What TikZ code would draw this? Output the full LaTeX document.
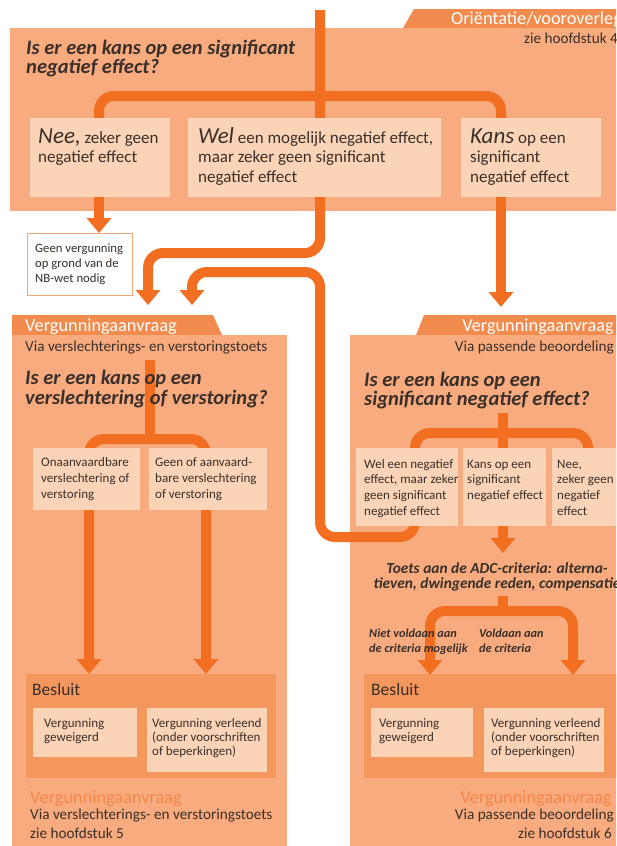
\documentclass[tikz,border=0pt]{standalone}
\usepackage{fontspec}
\setmainfont{Carlito}
\usetikzlibrary{arrows.meta}
\definecolor{boxfill}{HTML}{F7AB7E}
\definecolor{tabfill}{HTML}{F28B4E}
\definecolor{innerfill}{HTML}{FBD3B6}
\definecolor{besfill}{HTML}{F4975C}
\definecolor{lineor}{HTML}{F26F21}
\definecolor{txtc}{HTML}{3B2F2A}
\definecolor{ortxt}{HTML}{F5874A}
\definecolor{geenb}{HTML}{F2A57A}
\newcommand{\bigit}[1]{{\fontsize{23}{19.5}\selectfont\itshape #1}}
\begin{document}
\begin{tikzpicture}[x=1pt,y=-1pt,
  outerbox/.style={fill=boxfill,draw=none},
  tabshape/.style={fill=tabfill,draw=none},
  besbox/.style={fill=besfill,draw=none,inner sep=0,outer sep=0,anchor=north west},
  innerbox/.style={fill=innerfill,draw=none,inner sep=0,outer sep=0,anchor=north west},
  flow/.style={draw=lineor,line width=10pt,rounded corners=15pt},
  flowarr/.style={flow,-{Triangle[width=24pt,length=15pt]}},
  qtxt/.style={font=\fontsize{20.5}{19.5}\selectfont\bfseries\itshape,text=txtc,align=left,inner sep=0,anchor=base west},
  bigtxt/.style={font=\fontsize{17}{19.5}\selectfont,text=txtc,align=left,inner sep=0,anchor=base west},
  smalltxt/.style={font=\fontsize{13}{15.6}\selectfont,text=txtc,align=left,inner sep=0,anchor=base west},
  bestxt/.style={font=\fontsize{13}{14}\selectfont,text=txtc,align=left,inner sep=0,anchor=base west},
  tabtxt/.style={font=\fontsize{18.3}{19}\selectfont,text=white,inner sep=0},
  subtxt/.style={font=\fontsize{15.2}{16}\selectfont,text=txtc,inner sep=0},
  ortitle/.style={font=\fontsize{18.3}{19}\selectfont,text=ortxt,inner sep=0},
  crit/.style={font=\fontsize{12.3}{15}\selectfont\bfseries\itshape,text=txtc,align=left,inner sep=0,anchor=base west},
  adctxt/.style={font=\fontsize{15.4}{15}\selectfont\bfseries\itshape,text=txtc,align=center,inner sep=0,anchor=base},
  headtxt/.style={font=\fontsize{17.5}{18}\selectfont,text=txtc,inner sep=0,anchor=base west}
]
\useasboundingbox (0,0) rectangle (616,846);
\clip (0,0) rectangle (616,846);

% ---------- outer boxes ----------
\fill[tabshape] (403,28) -- (414,9) -- (630,9) -- (630,28) -- cycle;
\node[outerbox,inner sep=0,outer sep=0,anchor=north west,minimum width=620pt,minimum height=183pt] (topbox) at (10,28) {};
\fill[tabshape] (12,335) -- (12,315) -- (213,315) -- (222,335) -- cycle;
\node[outerbox,inner sep=0,outer sep=0,anchor=north west,minimum width=275pt,minimum height=520pt] (leftbox) at (12,335) {};
\fill[tabshape] (416,335) -- (424,315) -- (630,315) -- (630,335) -- cycle;
\node[outerbox,inner sep=0,outer sep=0,anchor=north west,minimum width=280pt,minimum height=520pt] (rightbox) at (350,335) {};

\node[besbox,minimum width=250pt,minimum height=104pt] (besL) at (26,674) {};
\node[besbox,minimum width=260pt,minimum height=104pt] (besR) at (364,674) {};

\node[draw=geenb,fill=white,line width=0.8pt,inner sep=0,outer sep=0,anchor=north west,minimum width=105pt,minimum height=62pt] (geen) at (27,233) {};

% ---------- coordinates ----------
\coordinate (start) at (320,10);
\coordinate (bT) at (320,96);
\coordinate (bTL) at (99,96);
\coordinate (bTR) at (501,96);
\coordinate (aA) at (320,253);
\coordinate (aA2) at (148,253);
\coordinate (tipA) at (148,305);
\coordinate (tipNee) at (99,233);
\coordinate (tipKans) at (501,307);
\coordinate (vL) at (150,360);
\coordinate (bL) at (150,439);
\coordinate (tipL1) at (89,674);
\coordinate (tipL2) at (206,674);
\coordinate (vR) at (503,413);
\coordinate (bR) at (503,433);
\coordinate (tipKR) at (503,553);
\coordinate (bB1) at (415,537);
\coordinate (bB2) at (320,537);
\coordinate (bB3) at (320,272);
\coordinate (bB4) at (192,272);
\coordinate (tipB) at (192,305);
\coordinate (vADC) at (503,596);
\coordinate (bADC) at (503,611);
\coordinate (tipR1) at (430,675);
\coordinate (tipR2) at (573,675);

% ---------- flow lines ----------
\draw[flowarr] (start) -- (aA) -- (aA2) -- (tipA);
\draw[flow] (bTL |- 0,150) -- (bTL) -- (bTR) -- (bTR |- 0,150);
\draw[flowarr] (bTL |- 0,150) -- (tipNee);
\draw[flowarr] (bTR |- 0,150) -- (tipKans);

\draw[flow] (vL) -- (bL);
\draw[flowarr] (bL) -| (tipL1);
\draw[flowarr] (bL) -| (tipL2);

\draw[flow] (vR) -- (bR);
\draw[flow] (bR) -| (588,480);
\draw[flowarr] (bR) -- (tipKR);
\draw[flowarr] (bR) -| (bB1) -- (bB2) -- (bB3) -- (bB4) -- (tipB);

\draw[flow] (vADC) -- (bADC);
\draw[flowarr] (bADC) -| (tipR1);
\draw[flowarr] (bADC) -| (tipR2);

% ---------- inner boxes ----------
\node[innerbox,minimum width=140pt,minimum height=79pt] (neeT) at (30,118) {};
\node[innerbox,minimum width=253pt,minimum height=79pt] (welT) at (188,118) {};
\node[innerbox,minimum width=140pt,minimum height=79pt] (kansT) at (461,118) {};

\node[innerbox,minimum width=107pt,minimum height=62pt] (onaL) at (33,448) {};
\node[innerbox,minimum width=118pt,minimum height=62pt] (geenL) at (149,448) {};

\node[innerbox,minimum width=102pt,minimum height=78pt] (welR) at (356,448) {};
\node[innerbox,minimum width=83pt,minimum height=78pt] (kansR) at (463,448) {};
\node[innerbox,minimum width=70pt,minimum height=78pt] (neeR) at (552,448) {};

\node[innerbox,minimum width=104pt,minimum height=49pt] (weigL) at (33,708) {};
\node[innerbox,minimum width=120pt,minimum height=64pt] (verlL) at (147,708) {};
\node[innerbox,minimum width=102pt,minimum height=49pt] (weigR) at (371,708) {};
\node[innerbox,minimum width=120pt,minimum height=64pt] (verlR) at (484,708) {};

% ---------- texts: top (base = last line) ----------
\node[tabtxt,anchor=base west] (tabT) at (451,24) {Oriëntatie/vooroverleg};
\node[subtxt,anchor=base west] (hfd4) at (524,43) {zie hoofdstuk 4};
\node[qtxt] (qT) at (26,73.5) {Is er een kans op een significant\\negatief effect?};
\node[bigtxt] (tNee) at (38,162.5) {\bigit{Nee,} zeker geen\\negatief effect};
\node[bigtxt] (tWel) at (198,182) {\bigit{Wel} een mogelijk negatief effect,\\maar zeker geen significant\\negatief effect};
\node[bigtxt] (tKans) at (470,182) {\bigit{Kans} op een\\significant\\negatief effect};
\node[smalltxt,font=\fontsize{12.7}{15}\selectfont] (tGeen) at (35,282) {Geen vergunning\\op grond van de\\NB-wet nodig};

% ---------- texts: left ----------
\node[tabtxt,anchor=base west] (tabL) at (25,331) {Vergunningaanvraag};
\node[subtxt,anchor=base west] (viaL) at (25,351) {Via verslechterings- en verstoringstoets};
\node[qtxt] (qL) at (25,404) {Is er een kans op een\\verslechtering of verstoring?};
\node[smalltxt] (tOna) at (41,498) {Onaanvaardbare\\verslechtering of\\verstoring};
\node[smalltxt] (tGeenL) at (155,498) {Geen of aanvaard-\\bare verslechtering\\of verstoring};
\node[headtxt] (besTL) at (32,695) {Besluit};
\node[bestxt] (tWeigL) at (44,741) {Vergunning\\geweigerd};
\node[bestxt] (tVerlL) at (152,755) {Vergunning verleend\\(onder voorschriften\\of beperkingen)};
\node[ortitle,anchor=base west] (botL1) at (30,803) {Vergunningaanvraag};
\node[subtxt,anchor=base west] (botL2) at (30,819) {Via verslechterings- en verstoringstoets};
\node[subtxt,anchor=base west] (botL3) at (30,838) {zie hoofdstuk 5};

% ---------- texts: right ----------
\node[tabtxt,anchor=base east] (tabR) at (614,331) {Vergunningaanvraag};
\node[subtxt,anchor=base east] (viaR) at (614,351) {Via passende beoordeling};
\node[qtxt] (qR) at (364,405.5) {Is er een kans op een\\significant negatief effect?};
\node[smalltxt] (tWelR) at (364,515) {Wel een negatief\\effect, maar zeker\\geen significant\\negatief effect};
\node[smalltxt] (tKansR) at (467,499.5) {Kans op een\\significant\\negatief effect};
\node[smalltxt] (tNeeR) at (557,515) {Nee,\\zeker geen\\negatief\\effect};
\node[adctxt] (adc) at (497,588) {Toets aan de ADC-criteria: alterna-\\tieven, dwingende reden, compensatie};
\node[crit] (niet) at (369,652) {Niet voldaan aan\\de criteria mogelijk};
\node[crit] (vold) at (479,652) {Voldaan aan\\de criteria};
\node[headtxt] (besTR) at (371,695) {Besluit};
\node[bestxt] (tWeigR) at (379,741) {Vergunning\\geweigerd};
\node[bestxt] (tVerlR) at (491,755) {Vergunning verleend\\(onder voorschriften\\of beperkingen)};
\node[ortitle,anchor=base east] (botR1) at (612,803) {Vergunningaanvraag};
\node[subtxt,anchor=base east] (botR2) at (614,819) {Via passende beoordeling};
\node[subtxt,anchor=base east] (botR3) at (612,838) {zie hoofdstuk 6};
\end{tikzpicture}
\end{document}
